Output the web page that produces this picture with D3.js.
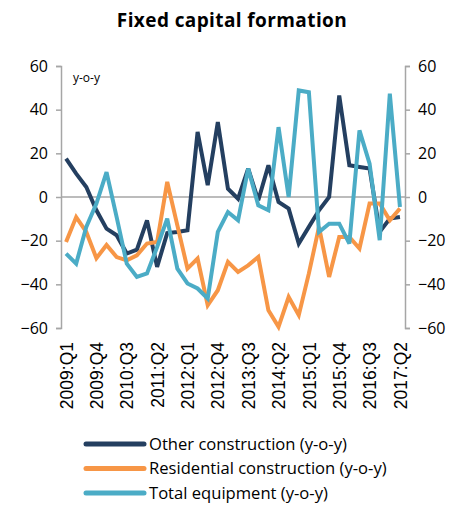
<!DOCTYPE html>
<html><head><meta charset="utf-8">
<script src="https://cdn.jsdelivr.net/npm/d3@7"></script>
<style>body{margin:0;background:#fff}svg{display:block}</style>
</head><body>
<svg id="c" width="454" height="506"></svg>
<script>
const quarters = [];
for (let y = 2009; y <= 2017; y++) for (let q = 1; q <= 4; q++) { if (y === 2017 && q > 2) break; quarters.push(y + ":Q" + q); }
const tickLabels = ["2009:Q1","2009:Q4","2010:Q3","2011:Q2","2012:Q1","2012:Q4","2013:Q3","2014:Q2","2015:Q1","2015:Q4","2016:Q3","2017:Q2"];
const otherConstruction = [17.6,10.7,4.6,-6.1,-14.5,-17.5,-25.9,-24.1,-10.7,-32,-16.5,-16,-15.2,29.8,5.4,34.3,3.8,-0.8,13,-1.5,14.5,-2.3,-5.3,-21.3,-13.7,-6.1,0,46.5,14.5,13.7,13,-16,-9.9,-9.2];
const residential = [-20.6,-9.2,-16,-28,-22,-27.5,-29,-26.7,-21.3,-20.6,6.9,-13,-32.8,-28.2,-49.6,-42.7,-29.7,-34.3,-31.3,-27.5,-51.9,-59.5,-45.8,-54.1,-35,-13.7,-36.6,-18.3,-18.3,-23.6,-3,-3,-10.7,-5.3];
const equipment = [-25.9,-30.5,-13.7,-3,11.4,-9.2,-30.5,-36.6,-35,-22.9,-9.9,-32.8,-39.6,-41.9,-46.5,-16,-6.9,-10.7,13,-3.8,-6.1,32,0,48.8,48,-16,-12.2,-12.2,-21.3,30.5,15.3,-19.8,47.3,-4.6];
const yTicks = [-60,-40,-20,0,20,40,60];
const seriesNames = ["Other construction (y-o-y)","Residential construction (y-o-y)","Total equipment (y-o-y)"];
const colors = ["#243f60","#f79646","#4bacc6"];
const seriesData = [otherConstruction, residential, equipment];

const font = "'Open Sans', sans-serif";
const xfont = "'Liberation Sans', Arial, sans-serif";
const svg = d3.select("#c");
const L = 61, R = 405, T = 66, B = 328;
const x = d3.scalePoint().domain(quarters).range([L, R]).padding(0.5);
const y = d3.scaleLinear().domain([-60, 60]).range([B, T]);
const axisCol = "#a6a6a6";

svg.append("text").attr("x", 232).attr("y", 27).attr("text-anchor", "middle")
  .attr("font-family", font).attr("font-weight", "bold").attr("font-size", 19).attr("letter-spacing", 0.4).attr("fill", "#000")
  .text("Fixed capital formation");

const yl = svg.append("g").attr("transform", `translate(${L},0)`).call(d3.axisLeft(y).tickValues(yTicks).tickSize(5).tickPadding(8));
const yr = svg.append("g").attr("transform", `translate(${R},0)`).call(d3.axisRight(y).tickValues(yTicks).tickSize(5).tickPadding(8));
[yl, yr].forEach(g => {
  g.select(".domain").attr("stroke", axisCol).attr("stroke-width", 1.5);
  g.selectAll(".tick line").attr("stroke", axisCol).attr("stroke-width", 1.5);
  g.selectAll(".tick text").attr("font-family", font).attr("font-size", 16).attr("fill", "#000");
});

svg.append("line").attr("x1", L).attr("x2", R).attr("y1", y(0)).attr("y2", y(0))
  .attr("stroke", axisCol).attr("stroke-width", 1.5);

const xa = svg.append("g").attr("transform", `translate(0,${B})`)
  .call(d3.axisBottom(x).tickValues(tickLabels).tickSize(0).tickPadding(0));
xa.select(".domain").remove();
xa.selectAll(".tick text").attr("font-family", xfont).attr("font-size", 17.5).attr("fill", "#000")
  .attr("text-anchor", "end").attr("transform", "translate(0,14) rotate(-90)").attr("dy", "0.35em").attr("dx", 0).attr("y", 0).attr("x", 0);

svg.append("text").attr("x", 73).attr("y", 82).attr("font-family", font).attr("font-size", 12).text("y-o-y");

const line = d3.line().x((d, i) => x(quarters[i])).y(d => y(d));
seriesData.forEach((s, k) => {
  svg.append("path").datum(s).attr("d", line).attr("fill", "none")
    .attr("stroke", colors[k]).attr("stroke-width", 4).attr("stroke-linejoin", "miter").attr("stroke-miterlimit", 3);
});

const lg = svg.append("g");
seriesNames.forEach((n, k) => {
  const yy = 444 + k * 24.5;
  lg.append("line").attr("x1", 86).attr("x2", 144).attr("y1", yy).attr("y2", yy)
    .attr("stroke", colors[k]).attr("stroke-width", 5).attr("stroke-linecap", "round");
  lg.append("text").attr("x", 149).attr("y", yy).attr("dy", "0.35em").attr("font-family", font)
    .attr("font-size", 16.6).attr("fill", "#000").text(n);
});
</script>
</body></html>
